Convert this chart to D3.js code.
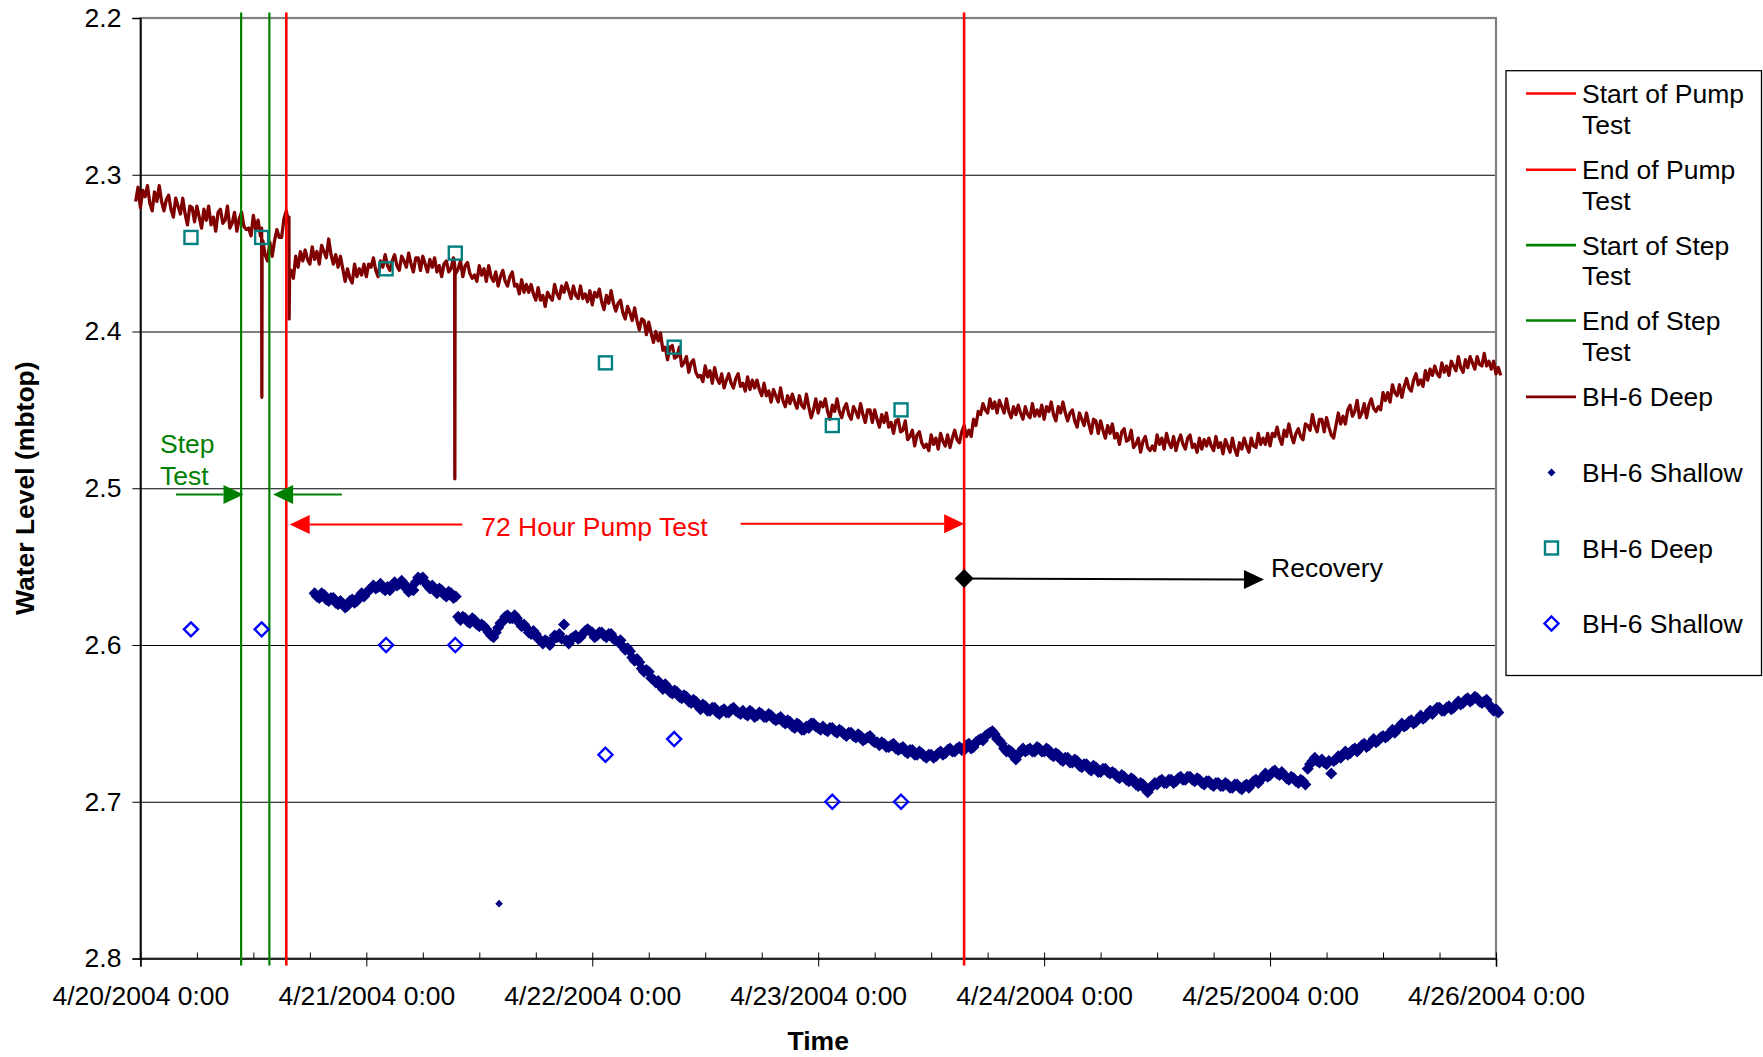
<!DOCTYPE html>
<html><head><meta charset="utf-8">
<script src="https://cdn.jsdelivr.net/npm/d3@7"></script>
<style>
html,body{margin:0;padding:0;background:#fff;}
svg{display:block;font-family:"Liberation Sans",Arial,sans-serif;}
</style></head><body>
<svg id="chart" width="1763" height="1057"></svg>
<script>
// ---------------- DATA ----------------
const xTickLabels = ["4/20/2004 0:00","4/21/2004 0:00","4/22/2004 0:00","4/23/2004 0:00","4/24/2004 0:00","4/25/2004 0:00","4/26/2004 0:00"];
const yTickValues = [2.2, 2.3, 2.4, 2.5, 2.6, 2.7, 2.8];

// hours are counted from 4/20/2004 0:00
const eventNames = ["Start of Pump Test", "End of Pump Test", "Start of Step Test", "End of Step Test"];
const eventHours = [15.5, 87.5, 10.7, 13.7];
const eventLevels = [2.1965, 2.8045];

// BH-6 Deep logger, one reading every 15 min from hour -0.5
const deepStartHour = -0.5;
const deepStepHours = 0.25;
const deepValues = [
2.317,2.308,2.321,2.310,2.314,2.307,2.318,2.323,2.311,2.317,2.307,2.317,2.323,2.316,2.313,2.322,2.327,2.315,2.320,2.325,2.315,2.325,2.332,2.320,
2.321,2.330,2.320,2.327,2.334,2.322,2.329,2.320,2.332,2.327,2.336,2.324,2.322,2.331,2.329,2.320,2.334,2.331,2.324,2.336,2.328,2.324,2.333,2.335,
2.334,2.339,2.326,2.335,2.329,2.339,2.342,2.351,2.355,2.343,2.352,2.342,2.335,2.340,2.340,2.328,2.323,2.331,2.361,2.366,2.352,2.359,2.349,2.355,
2.348,2.354,2.357,2.346,2.354,2.349,2.357,2.345,2.349,2.353,2.341,2.351,2.357,2.351,2.359,2.352,2.360,2.368,2.360,2.366,2.369,2.357,2.365,2.360,
2.364,2.357,2.365,2.357,2.359,2.353,2.361,2.365,2.355,2.359,2.351,2.358,2.361,2.355,2.351,2.358,2.361,2.352,2.355,2.359,2.350,2.357,2.362,2.353,
2.353,2.361,2.352,2.357,2.362,2.354,2.359,2.353,2.362,2.358,2.365,2.357,2.355,2.362,2.360,2.353,2.363,2.360,2.355,2.365,2.358,2.356,2.363,2.366,
2.364,2.368,2.358,2.364,2.360,2.368,2.358,2.365,2.368,2.362,2.371,2.365,2.361,2.368,2.371,2.365,2.362,2.371,2.370,2.376,2.367,2.375,2.370,2.375,
2.370,2.376,2.380,2.372,2.380,2.377,2.384,2.375,2.378,2.380,2.370,2.376,2.379,2.371,2.375,2.369,2.374,2.379,2.371,2.377,2.379,2.371,2.379,2.376,
2.381,2.374,2.383,2.375,2.378,2.373,2.381,2.386,2.377,2.382,2.374,2.382,2.387,2.382,2.380,2.388,2.392,2.384,2.388,2.393,2.385,2.393,2.399,2.392,
2.393,2.402,2.394,2.401,2.407,2.400,2.406,2.401,2.412,2.410,2.418,2.410,2.409,2.417,2.416,2.410,2.422,2.420,2.416,2.426,2.420,2.418,2.426,2.429,
2.428,2.432,2.422,2.429,2.425,2.433,2.423,2.430,2.433,2.427,2.436,2.431,2.427,2.433,2.436,2.430,2.427,2.435,2.433,2.438,2.429,2.437,2.431,2.436,
2.431,2.437,2.441,2.433,2.441,2.438,2.445,2.437,2.441,2.445,2.436,2.444,2.448,2.441,2.446,2.440,2.445,2.449,2.441,2.447,2.449,2.440,2.448,2.455,
2.450,2.443,2.452,2.445,2.448,2.443,2.451,2.456,2.447,2.451,2.443,2.451,2.455,2.449,2.446,2.453,2.456,2.448,2.451,2.455,2.446,2.453,2.458,2.450,
2.450,2.458,2.450,2.456,2.461,2.453,2.458,2.452,2.461,2.458,2.465,2.457,2.456,2.464,2.463,2.457,2.469,2.467,2.463,2.473,2.466,2.464,2.471,2.474,
2.472,2.476,2.466,2.472,2.468,2.475,2.465,2.470,2.473,2.466,2.474,2.468,2.463,2.469,2.471,2.464,2.460,2.467,2.463,2.467,2.456,2.460,2.451,2.453,
2.446,2.450,2.452,2.443,2.449,2.445,2.452,2.444,2.448,2.452,2.443,2.451,2.455,2.448,2.453,2.447,2.452,2.456,2.448,2.453,2.455,2.446,2.454,2.450,
2.454,2.447,2.456,2.448,2.451,2.445,2.453,2.457,2.448,2.452,2.445,2.452,2.457,2.452,2.450,2.457,2.461,2.452,2.456,2.460,2.452,2.459,2.465,2.456,
2.457,2.465,2.457,2.463,2.468,2.460,2.465,2.459,2.468,2.465,2.472,2.464,2.462,2.470,2.469,2.463,2.474,2.472,2.468,2.477,2.470,2.467,2.474,2.476,
2.473,2.476,2.466,2.472,2.468,2.475,2.465,2.471,2.474,2.467,2.476,2.470,2.466,2.472,2.475,2.468,2.466,2.474,2.472,2.477,2.468,2.475,2.469,2.473,
2.468,2.473,2.476,2.467,2.474,2.471,2.478,2.469,2.473,2.477,2.468,2.475,2.479,2.471,2.475,2.468,2.473,2.477,2.468,2.473,2.474,2.465,2.472,2.468,
2.472,2.465,2.473,2.465,2.467,2.461,2.468,2.472,2.463,2.467,2.459,2.466,2.471,2.465,2.462,2.467,2.469,2.459,2.460,2.463,2.453,2.460,2.464,2.456,
2.456,2.464,2.455,2.461,2.466,2.468,2.460,2.452,2.459,2.454,2.459,2.450,2.447,2.454,2.451,2.444,2.455,2.452,2.446,2.455,2.447,2.443,2.449,2.451,
2.448,2.450,2.439,2.444,2.439,2.445,2.434,2.439,2.441,2.434,2.442,2.435,2.430,2.436,2.438,2.431,2.427,2.434,2.431,2.435,2.425,2.431,2.424,2.428,
2.422,2.427,2.429,2.420,2.426,2.422,2.428,2.419,2.422,2.425,2.416,2.423,2.426,2.418,2.423,2.416,2.420,2.424,2.416,2.421,2.422,2.414,2.422,2.419,
2.424,2.419,2.427,2.423,2.428
];
// short drawdown spikes in the deep record: [hour, level]
const deepSpikes = [[12.88,2.334],[12.9,2.442],[12.93,2.346],[15.78,2.327],[15.8,2.392],[15.85,2.362],[33.38,2.357],[33.4,2.494],[33.43,2.360]];

// BH-6 Shallow logger, one reading every 15 min from hour 18.5
const shallowStartHour = 18.5;
const shallowStepHours = 0.25;
const shallowValues = [
2.567,2.569,2.570,2.567,2.568,2.571,2.572,2.570,2.570,2.573,2.574,2.572,2.574,2.576,2.575,2.572,2.571,2.573,2.572,2.569,2.567,2.569,2.567,2.565,
2.564,2.562,2.564,2.563,2.561,2.564,2.565,2.563,2.565,2.562,2.560,2.562,2.561,2.559,2.561,2.564,2.566,2.564,2.565,2.560,2.557,2.558,2.557,2.560,
2.562,2.564,2.562,2.565,2.567,2.564,2.565,2.568,2.569,2.566,2.567,2.570,2.569,2.582,2.584,2.582,2.583,2.585,2.586,2.583,2.584,2.587,2.588,2.587,
2.588,2.590,2.592,2.594,2.595,2.592,2.589,2.586,2.585,2.582,2.581,2.583,2.583,2.581,2.583,2.586,2.588,2.587,2.589,2.592,2.593,2.591,2.593,2.596,
2.597,2.599,2.597,2.598,2.600,2.597,2.594,2.595,2.593,2.596,2.587,2.597,2.599,2.596,2.595,2.594,2.596,2.595,2.593,2.591,2.590,2.591,2.592,2.595,
2.594,2.592,2.592,2.594,2.595,2.593,2.593,2.596,2.597,2.598,2.597,2.601,2.603,2.602,2.604,2.608,2.610,2.609,2.611,2.615,2.617,2.616,2.617,2.621,
2.622,2.624,2.623,2.626,2.628,2.625,2.627,2.630,2.631,2.629,2.630,2.633,2.634,2.632,2.633,2.636,2.637,2.635,2.636,2.639,2.641,2.638,2.639,2.642,
2.642,2.640,2.640,2.643,2.644,2.642,2.641,2.643,2.643,2.641,2.640,2.642,2.643,2.644,2.642,2.644,2.645,2.642,2.643,2.646,2.645,2.643,2.644,2.646,
2.646,2.644,2.645,2.647,2.648,2.647,2.646,2.649,2.650,2.648,2.649,2.652,2.653,2.650,2.651,2.654,2.654,2.652,2.653,2.650,2.650,2.652,2.653,2.654,
2.652,2.654,2.655,2.653,2.653,2.655,2.656,2.654,2.655,2.657,2.658,2.656,2.656,2.658,2.659,2.657,2.658,2.661,2.660,2.659,2.658,2.661,2.662,2.662,
2.664,2.662,2.663,2.665,2.665,2.664,2.663,2.666,2.667,2.666,2.665,2.668,2.669,2.667,2.667,2.670,2.670,2.668,2.669,2.671,2.672,2.670,2.670,2.672,
2.671,2.669,2.668,2.670,2.669,2.667,2.666,2.668,2.668,2.666,2.665,2.667,2.667,2.664,2.663,2.666,2.665,2.662,2.661,2.660,2.661,2.658,2.657,2.656,
2.655,2.657,2.660,2.661,2.663,2.666,2.668,2.667,2.668,2.671,2.673,2.670,2.668,2.666,2.668,2.667,2.666,2.668,2.668,2.665,2.666,2.668,2.668,2.666,
2.667,2.670,2.671,2.669,2.670,2.673,2.674,2.672,2.672,2.675,2.675,2.673,2.674,2.677,2.678,2.676,2.676,2.679,2.680,2.677,2.678,2.681,2.681,2.679,
2.679,2.681,2.682,2.681,2.682,2.684,2.685,2.683,2.684,2.686,2.687,2.685,2.686,2.689,2.690,2.688,2.689,2.692,2.694,2.691,2.690,2.688,2.689,2.687,
2.686,2.688,2.688,2.686,2.686,2.688,2.687,2.685,2.684,2.686,2.686,2.684,2.684,2.686,2.687,2.685,2.686,2.688,2.689,2.687,2.687,2.689,2.690,2.688,
2.688,2.690,2.690,2.688,2.689,2.691,2.691,2.689,2.689,2.691,2.692,2.690,2.689,2.691,2.689,2.687,2.686,2.688,2.686,2.684,2.682,2.684,2.683,2.681,
2.680,2.682,2.683,2.681,2.683,2.685,2.686,2.684,2.685,2.687,2.688,2.686,2.687,2.689,2.679,2.676,2.674,2.672,2.674,2.675,2.673,2.675,2.676,2.674,
2.682,2.674,2.673,2.671,2.672,2.670,2.668,2.670,2.669,2.667,2.666,2.668,2.666,2.664,2.663,2.665,2.664,2.662,2.660,2.662,2.661,2.659,2.658,2.659,
2.658,2.656,2.654,2.656,2.654,2.652,2.650,2.652,2.651,2.649,2.648,2.650,2.649,2.647,2.645,2.647,2.646,2.644,2.642,2.644,2.642,2.640,2.640,2.642,
2.642,2.640,2.639,2.641,2.640,2.638,2.636,2.638,2.637,2.635,2.634,2.636,2.635,2.633,2.634,2.636,2.637,2.636,2.635,2.638,2.640,2.642,2.641,2.643
];
const shallowOutliers = [[38.1, 2.765]];

// manual water level readings
const sampleHours = [5.37, 12.88, 26.1, 33.45, 49.4, 56.7, 73.5, 80.8];
const deepManual = [2.34, 2.34, 2.36, 2.35, 2.42, 2.41, 2.46, 2.45];
const shallowManual = [2.59, 2.59, 2.60, 2.60, 2.67, 2.66, 2.70, 2.70];

// annotation anchors (hours, level)
const stepArrows = [[3.78, 10.95, 2.504], [21.4, 14.1, 2.504]];
const pumpArrows = [[34.2, 15.86, 2.5232], [63.76, 87.5, 2.5227]];
const recoveryArrow = [87.5, 119.35, 2.5576, 2.5582];

// ---------------- CHART ----------------
const plot = {left: 140.4, right: 1496, top: 18, bottom: 958.5};
const FONT = 26.5;
const svg = d3.select("#chart");
const parse = d3.timeParse("%m/%d/%Y %H:%M");
const xTickDates = xTickLabels.map(parse);
const t0 = xTickDates[0];
const T = h => new Date(t0.getTime() + h * 3600e3);

const x = d3.scaleTime().domain([xTickDates[0], xTickDates[xTickDates.length - 1]]).range([plot.left, plot.right]);
const y = d3.scaleLinear().domain([yTickValues[0], yTickValues[yTickValues.length - 1]]).range([plot.top, plot.bottom]);

// gridlines
svg.append("g").attr("transform", `translate(${plot.left},0)`)
  .call(d3.axisLeft(y).tickValues(yTickValues.slice(1, -1)).tickSize(-(plot.right - plot.left)).tickFormat(""))
  .call(g => g.select(".domain").remove())
  .call(g => g.selectAll("line").attr("stroke", "#000").attr("stroke-width", 1));

// plot border
svg.append("rect").attr("x", plot.left).attr("y", plot.top)
  .attr("width", plot.right - plot.left).attr("height", plot.bottom - plot.top)
  .attr("fill", "none").attr("stroke", "#808080").attr("stroke-width", 2.2);

// y axis
const yAxis = svg.append("g").attr("transform", `translate(${plot.left},0)`)
  .call(d3.axisLeft(y).tickValues(yTickValues).tickSize(8).tickPadding(11).tickFormat(d3.format(".1f")));
yAxis.select(".domain").attr("stroke", "#000").attr("stroke-width", 1.6);
yAxis.selectAll("text").attr("font-size", FONT).attr("fill", "#000").attr("font-family", "Liberation Sans, Arial, sans-serif");

// x axis minor (inside) ticks
const minorTicks = d3.timeHour.every(6).range(xTickDates[0], new Date(xTickDates[xTickDates.length - 1].getTime() + 1));
svg.append("g").attr("transform", `translate(0,${plot.bottom})`)
  .call(d3.axisBottom(x).tickValues(minorTicks).tickSize(-6).tickFormat(""))
  .call(g => g.select(".domain").remove());
// x axis major ticks
const xAxis = svg.append("g").attr("transform", `translate(0,${plot.bottom})`)
  .call(d3.axisBottom(x).tickValues(xTickDates).tickSize(8).tickPadding(20).tickFormat((d, i) => xTickLabels[i]));
xAxis.select(".domain").attr("stroke", "#000").attr("stroke-width", 1.6);
xAxis.selectAll("text").attr("font-size", FONT).attr("fill", "#000").attr("font-family", "Liberation Sans, Arial, sans-serif");

// axis titles
svg.append("text").attr("x", (plot.left + plot.right) / 2).attr("y", 1050)
  .attr("text-anchor", "middle").attr("font-size", FONT).attr("font-weight", "bold").text("Time");
svg.append("text").attr("transform", `translate(34,${(plot.top + plot.bottom) / 2}) rotate(-90)`)
  .attr("text-anchor", "middle").attr("font-size", FONT).attr("font-weight", "bold").text("Water Level (mbtop)");

// deep series
const deepPts = deepValues.map((v, i) => ({h: deepStartHour + i * deepStepHours, v}))
  .concat(deepSpikes.map(d => ({h: d[0], v: d[1]})))
  .sort((a, b) => a.h - b.h);
const line = d3.line().x(d => x(T(d.h))).y(d => y(d.v));
svg.append("path").datum(deepPts).attr("d", line)
  .attr("fill", "none").attr("stroke", "#800000").attr("stroke-width", 3.3).attr("stroke-linejoin", "round");

// shallow series
const diamond = r => `M0,${-r}L${r},0L0,${r}L${-r},0Z`;
const shallowPts = shallowValues.map((v, i) => ({h: shallowStartHour + i * shallowStepHours, v}));
svg.append("g").selectAll("path").data(shallowPts).join("path")
  .attr("transform", d => `translate(${x(T(d.h))},${y(d.v)})`)
  .attr("d", diamond(6)).attr("fill", "#000080");
svg.append("g").selectAll("path").data(shallowOutliers).join("path")
  .attr("transform", d => `translate(${x(T(d[0]))},${y(d[1])})`)
  .attr("d", diamond(3.8)).attr("fill", "#000080");

// event vertical lines
const eventColors = ["#FF0000", "#FF0000", "#008000", "#008000"];
svg.append("g").selectAll("line").data(eventHours).join("line")
  .attr("x1", d => x(T(d))).attr("x2", d => x(T(d)))
  .attr("y1", y(eventLevels[0])).attr("y2", y(eventLevels[1]))
  .attr("stroke", (d, i) => eventColors[i]).attr("stroke-width", (d, i) => i < 2 ? 2.6 : 2.2);

// manual readings
svg.append("g").selectAll("rect").data(sampleHours).join("rect")
  .attr("x", d => x(T(d)) - 6.5).attr("y", (d, i) => y(deepManual[i]) - 6.5)
  .attr("width", 13).attr("height", 13).attr("fill", "none").attr("stroke", "#008080").attr("stroke-width", 2.4);
svg.append("g").selectAll("path").data(sampleHours).join("path")
  .attr("transform", (d, i) => `translate(${x(T(d))},${y(shallowManual[i])})`)
  .attr("d", diamond(7)).attr("fill", "none").attr("stroke", "#0000FF").attr("stroke-width", 2.4);

// annotations
function arrow(h1, h2, v1, v2, color, lw) {
  const x1 = x(T(h1)), x2 = x(T(h2)), y1 = y(v1), y2 = y(v2);
  const dir = Math.sign(x2 - x1);
  const len = 20, hw = 9.5;
  svg.append("line").attr("x1", x1).attr("y1", y1).attr("x2", x2 - dir * len).attr("y2", y2)
    .attr("stroke", color).attr("stroke-width", lw);
  svg.append("path").attr("d", `M${x2},${y2}L${x2 - dir * len},${y2 - hw}L${x2 - dir * len},${y2 + hw}Z`).attr("fill", color);
}
stepArrows.forEach(a => arrow(a[0], a[1], a[2], a[2], "#008000", 2));
pumpArrows.forEach(a => arrow(a[0], a[1], a[2], a[2], "#FF0000", 2));
arrow(recoveryArrow[0], recoveryArrow[1], recoveryArrow[2], recoveryArrow[3], "#000", 2);
svg.append("path").attr("transform", `translate(${x(T(recoveryArrow[0]))},${y(recoveryArrow[2])})`)
  .attr("d", diamond(9.5)).attr("fill", "#000");

svg.append("text").attr("x", x(T(2.08))).attr("y", y(2.4772)).attr("font-size", FONT).attr("fill", "#008000").text("Step");
svg.append("text").attr("x", x(T(2.08))).attr("y", y(2.4982)).attr("font-size", FONT).attr("fill", "#008000").text("Test");
svg.append("text").attr("x", x(T(36.2))).attr("y", y(2.5302)).attr("font-size", FONT).attr("fill", "#FF0000").text("72 Hour Pump Test");
svg.append("text").attr("x", x(T(120.1))).attr("y", y(2.5566)).attr("font-size", FONT).attr("fill", "#000").text("Recovery");

// legend
const lg = svg.append("g");
lg.append("rect").attr("x", 1506).attr("y", 70.7).attr("width", 255.5).attr("height", 604.8)
  .attr("fill", "#fff").attr("stroke", "#000").attr("stroke-width", 1.3);
const legendItems = [
  {lines: ["Start of Pump", "Test"], kind: "line", color: "#FF0000"},
  {lines: ["End of Pump", "Test"], kind: "line", color: "#FF0000"},
  {lines: ["Start of Step", "Test"], kind: "line", color: "#008000"},
  {lines: ["End of Step", "Test"], kind: "line", color: "#008000"},
  {lines: ["BH-6 Deep"], kind: "line", color: "#800000"},
  {lines: ["BH-6 Shallow"], kind: "dot", color: "#000080"},
  {lines: ["BH-6 Deep"], kind: "square", color: "#008080"},
  {lines: ["BH-6 Shallow"], kind: "diamond", color: "#0000FF"}
];
const legendRowY = [93.5, 169.8, 245.1, 320.5, 396.9, 472.5, 548, 623.5];
legendItems.forEach((it, i) => {
  const cy = legendRowY[i];
  if (it.kind === "line") {
    lg.append("line").attr("x1", 1526).attr("x2", 1576).attr("y1", cy).attr("y2", cy)
      .attr("stroke", it.color).attr("stroke-width", 2.6);
  } else if (it.kind === "dot") {
    lg.append("path").attr("transform", `translate(1551.5,${cy})`).attr("d", diamond(4)).attr("fill", it.color);
  } else if (it.kind === "square") {
    lg.append("rect").attr("x", 1551.5 - 6.5).attr("y", cy - 6.5).attr("width", 13).attr("height", 13)
      .attr("fill", "none").attr("stroke", it.color).attr("stroke-width", 2.4);
  } else {
    lg.append("path").attr("transform", `translate(1551.5,${cy})`).attr("d", diamond(7))
      .attr("fill", "none").attr("stroke", it.color).attr("stroke-width", 2.4);
  }
  it.lines.forEach((t, j) => {
    lg.append("text").attr("x", 1582).attr("y", cy + 9.5 + j * 30.5).attr("font-size", FONT).attr("fill", "#000").text(t);
  });
});
</script>
</body></html>
